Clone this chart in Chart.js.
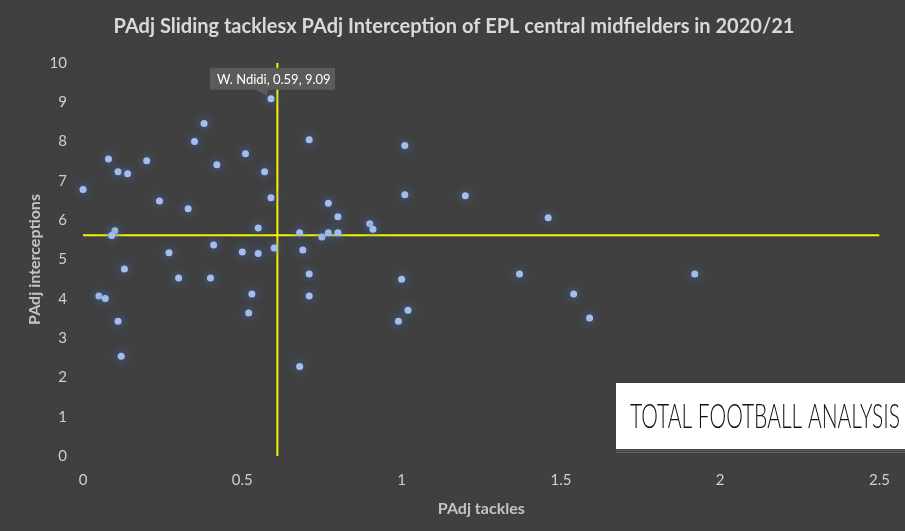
<!DOCTYPE html>
<html>
<head>
<meta charset="utf-8">
<title>PAdj Sliding tackles x PAdj Interception</title>
<script src="https://cdn.jsdelivr.net/npm/chart.js@4.4.1/dist/chart.umd.min.js"></script>
<style>
    html, body { margin: 0; padding: 0; background: #404040; }
    canvas { display: block; }
</style>
</head>
<body>
<canvas id="scatterChart" width="905" height="531"></canvas>
<script>
/**
 * PAdj Sliding tackles x PAdj Interceptions - EPL central midfielders 2020/21
 */

// One entry per player: PAdj tackles (x) and PAdj interceptions (y)
const tackles = [
    0.59, 0.38, 0.35, 0.08, 0.20, 0.51, 0.42, 0.11, 0.14, 0.57,
    0.00, 0.24, 0.33, 0.59, 0.55, 0.10, 0.09, 0.68, 0.71, 1.01,
    1.01, 0.77, 0.80, 0.90, 0.91, 0.75, 0.77, 0.80, 0.50, 0.55,
    0.60, 0.69, 0.41, 0.27, 0.13, 0.30, 0.40, 0.05, 0.07, 0.53,
    0.52, 0.11, 0.12, 0.68, 0.71, 0.71, 1.00, 1.02, 0.99, 1.20,
    1.46, 1.37, 1.92, 1.54, 1.59
];
const interceptions = [
    9.09, 8.46, 8.00, 7.56, 7.51, 7.69, 7.41, 7.23, 7.18, 7.23,
    6.78, 6.49, 6.29, 6.57, 5.80, 5.73, 5.61, 5.68, 8.05, 7.90,
    6.65, 6.43, 6.09, 5.91, 5.77, 5.57, 5.68, 5.68, 5.19, 5.15,
    5.29, 5.24, 5.37, 5.17, 4.76, 4.53, 4.53, 4.07, 4.01, 4.12,
    3.64, 3.43, 2.54, 2.28, 4.63, 4.07, 4.50, 3.71, 3.43, 6.62,
    6.06, 4.63, 4.63, 4.12, 3.51
];

// Labelled player
const labelName = 'W. Ndidi';
const labelIndex = 0;

// Averages drawn as the yellow cross
const avgTackles = 0.61;
const avgInterceptions = 5.62;

// Axis ticks
const xTicks = [0, 0.5, 1, 1.5, 2, 2.5];
const yTicks = [0, 1, 2, 3, 4, 5, 6, 7, 8, 9, 10];

const chartTitle = 'PAdj Sliding tacklesx PAdj Interception of EPL central midfielders in 2020/21';
const xTitle = 'PAdj tackles';
const yTitle = 'PAdj interceptions';
const logoText = 'TOTAL FOOTBALL ANALYSIS';

const fontFamily = 'Lato, "Open Sans", sans-serif';

const points = tackles.map((x, i) => ({ x: x, y: interceptions[i] }));

// Glow around the scatter points
const glowPlugin = {
    id: 'glow',
    beforeDatasetDraw(chart, args) {
        if (args.index !== 0) return;
        const ctx = chart.ctx;
        ctx.save();
        ctx.shadowColor = 'rgba(68, 114, 196, 1)';
        ctx.shadowBlur = 9;
    },
    afterDatasetDraw(chart, args) {
        if (args.index !== 0) return;
        chart.ctx.restore();
    }
};

// Title, data label callout and logo box
const decorPlugin = {
    id: 'decor',
    afterDraw(chart) {
        const ctx = chart.ctx;
        ctx.save();

        // title
        ctx.fillStyle = '#d9d9d9';
        ctx.font = 'bold 20px ' + fontFamily;
        ctx.textAlign = 'center';
        ctx.textBaseline = 'middle';
        ctx.fillText(chartTitle, 454, 27, 692);

        // callout for the labelled player
        const px = chart.scales.x.getPixelForValue(tackles[labelIndex]);
        const py = chart.scales.y.getPixelForValue(interceptions[labelIndex]);
        const boxL = px - 61, boxT = py - 31, boxW = 125, boxH = 22;
        ctx.fillStyle = '#5b5b5b';
        ctx.fillRect(boxL, boxT, boxW, boxH);
        ctx.beginPath();
        ctx.moveTo(px - 16, boxT + boxH);
        ctx.lineTo(px - 3, boxT + boxH);
        ctx.lineTo(px - 4, py - 3);
        ctx.closePath();
        ctx.fill();
        ctx.fillStyle = '#ffffff';
        ctx.font = '13px ' + fontFamily;
        ctx.textAlign = 'left';
        ctx.fillText(labelName + ', ' + tackles[labelIndex] + ', ' + interceptions[labelIndex], boxL + 7, boxT + boxH / 2 + 1);

        // logo box
        ctx.fillStyle = '#ffffff';
        ctx.fillRect(616, 383, 289, 66);
        ctx.strokeStyle = '#626262';
        ctx.lineWidth = 1;
        ctx.beginPath();
        ctx.moveTo(616, 450.5); ctx.lineTo(905, 450.5);
        ctx.moveTo(616, 452.5); ctx.lineTo(905, 452.5);
        ctx.stroke();
        ctx.fillStyle = '#111111';
        ctx.font = '300 34px Lato, "Liberation Sans Narrow", sans-serif';
        ctx.textAlign = 'left';
        ctx.fillText(logoText, 630, 417, 270);

        ctx.restore();
    }
};

const ctx = document.getElementById('scatterChart');

new Chart(ctx, {
    type: 'scatter',
    data: {
        datasets: [{
            label: 'Players',
            data: points,
            backgroundColor: '#a3bdee',
            borderColor: '#a3bdee',
            borderWidth: 0,
            pointRadius: 3.5,
            pointHoverRadius: 3.5,
            clip: false
        }, {
            label: 'Average tackles',
            type: 'line',
            data: [{ x: avgTackles, y: yTicks[0] }, { x: avgTackles, y: yTicks[yTicks.length - 1] }],
            borderColor: '#f5f500',
            borderWidth: 2,
            pointRadius: 0,
            fill: false
        }, {
            label: 'Average interceptions',
            type: 'line',
            data: [{ x: xTicks[0], y: avgInterceptions }, { x: xTicks[xTicks.length - 1], y: avgInterceptions }],
            borderColor: '#f5f500',
            borderWidth: 2,
            pointRadius: 0,
            fill: false
        }]
    },
    options: {
        responsive: false,
        animation: false,
        events: [],
        layout: {
            padding: { top: 63, right: 25, bottom: 0, left: 0 }
        },
        plugins: {
            legend: { display: false },
            tooltip: { enabled: false },
            title: { display: false }
        },
        scales: {
            x: {
                type: 'linear',
                min: xTicks[0],
                max: xTicks[xTicks.length - 1],
                grid: { display: false, drawTicks: false },
                border: { display: false },
                afterBuildTicks: function(scale) {
                    scale.ticks = xTicks.map(v => ({ value: v }));
                },
                afterFit: function(scale) {
                    scale.height = 75;
                },
                ticks: {
                    color: '#cfcfcf',
                    font: { family: fontFamily, size: 15 },
                    padding: 15,
                    callback: v => String(v)
                },
                title: {
                    display: true,
                    text: xTitle,
                    color: '#c4c4c4',
                    font: { family: fontFamily, size: 16, weight: 'bold' },
                    padding: { top: 0, bottom: 13 }
                }
            },
            y: {
                type: 'linear',
                min: yTicks[0],
                max: yTicks[yTicks.length - 1],
                grid: { display: false, drawTicks: false },
                border: { display: false },
                afterBuildTicks: function(scale) {
                    scale.ticks = yTicks.map(v => ({ value: v }));
                },
                afterFit: function(scale) {
                    scale.width = 83;
                },
                ticks: {
                    color: '#cfcfcf',
                    font: { family: fontFamily, size: 15 },
                    padding: 16
                },
                title: {
                    display: true,
                    text: yTitle,
                    color: '#c4c4c4',
                    font: { family: fontFamily, size: 16, weight: 'bold' },
                    padding: { top: 25, bottom: 0 }
                }
            }
        }
    },
    plugins: [glowPlugin, decorPlugin]
});
</script>
</body>
</html>
